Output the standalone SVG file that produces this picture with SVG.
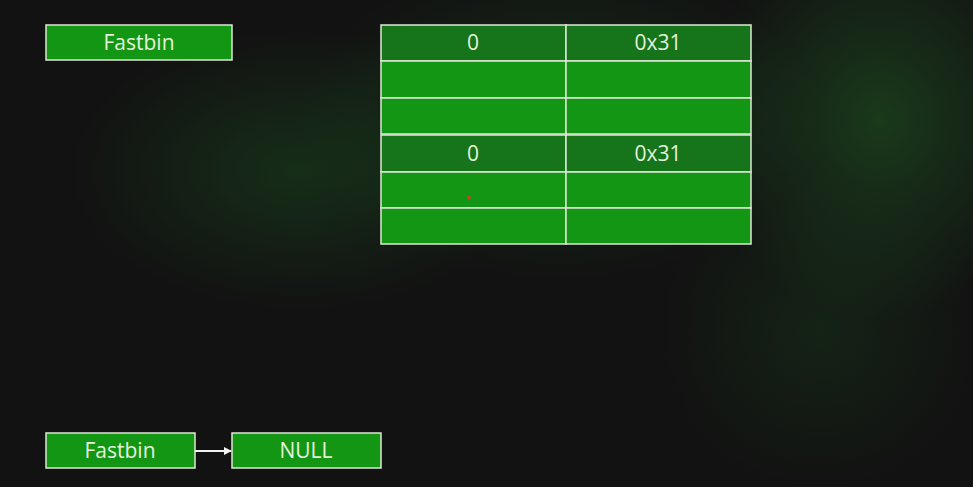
<svg xmlns="http://www.w3.org/2000/svg" width="973" height="487" viewBox="0 0 973 487">
<style>
.box{fill:#139613;stroke:#dfe8d8;stroke-width:1.5}
.hdr{fill:#16741a;stroke:#dfe8d8;stroke-width:1.5}
.t{font-family:"Open Sans","Noto Sans",sans-serif;font-size:21px;fill:#e4f2dc;text-anchor:middle;dominant-baseline:central}
.conn{stroke:#f2f2f2;stroke-width:2;fill:none}
</style>
<defs>
<radialGradient id="g1" cx="0.5" cy="0.5" r="0.5">
<stop offset="0" stop-color="#1f5a22" stop-opacity="0.55"/>
<stop offset="1" stop-color="#1f5a22" stop-opacity="0"/>
</radialGradient>
<radialGradient id="g2" cx="0.5" cy="0.5" r="0.5">
<stop offset="0" stop-color="#1a4a1e" stop-opacity="0.5"/>
<stop offset="1" stop-color="#1a4a1e" stop-opacity="0"/>
</radialGradient>
<marker id="ah" viewBox="0 0 10 10" refX="9" refY="5" markerWidth="4" markerHeight="4" orient="auto">
<path d="M0,0 L10,5 L0,10 z" fill="#f2f2f2"/>
</marker>
</defs>
<rect width="973" height="487" fill="#121212"/>
<ellipse cx="300" cy="170" rx="230" ry="140" fill="url(#g2)"/>
<ellipse cx="560" cy="120" rx="260" ry="160" fill="url(#g2)"/>
<ellipse cx="880" cy="120" rx="180" ry="200" fill="url(#g1)"/>
<ellipse cx="820" cy="330" rx="160" ry="160" fill="url(#g2)" opacity="0.6"/>

<g id="fastbin-top">
<rect class="box" x="46" y="25" width="186" height="35"/>
<text class="t" x="139" y="42">Fastbin</text>
</g>

<g id="chunk1">
<rect class="hdr" x="381" y="25" width="185" height="36"/>
<rect class="hdr" x="566" y="25" width="185" height="36"/>
<text class="t" x="473" y="42">0</text>
<text class="t" x="658" y="42">0x31</text>
<rect class="box" x="381" y="61" width="185" height="37"/>
<rect class="box" x="566" y="61" width="185" height="37"/>
<rect class="box" x="381" y="98" width="185" height="36"/>
<rect class="box" x="566" y="98" width="185" height="36"/>
</g>

<g id="chunk2">
<rect class="hdr" x="381" y="135" width="185" height="37"/>
<rect class="hdr" x="566" y="135" width="185" height="37"/>
<text class="t" x="473" y="153">0</text>
<text class="t" x="658" y="153">0x31</text>
<rect class="box" x="381" y="172" width="185" height="36"/>
<rect class="box" x="566" y="172" width="185" height="36"/>
<rect class="box" x="381" y="208" width="185" height="36"/>
<rect class="box" x="566" y="208" width="185" height="36"/>
<circle cx="469" cy="197.5" r="1.8" fill="#d23a2a"/>
</g>

<g id="fastbin-bottom">
<rect class="box" x="46" y="433" width="149" height="35"/>
<text class="t" x="120" y="450">Fastbin</text>
</g>

<g id="null">
<rect class="box" x="232" y="433" width="149" height="35"/>
<text class="t" x="306" y="450">NULL</text>
</g>

<g id="connectors">
<line class="conn" x1="195" y1="451" x2="231" y2="451" marker-end="url(#ah)"/>
</g>
</svg>
